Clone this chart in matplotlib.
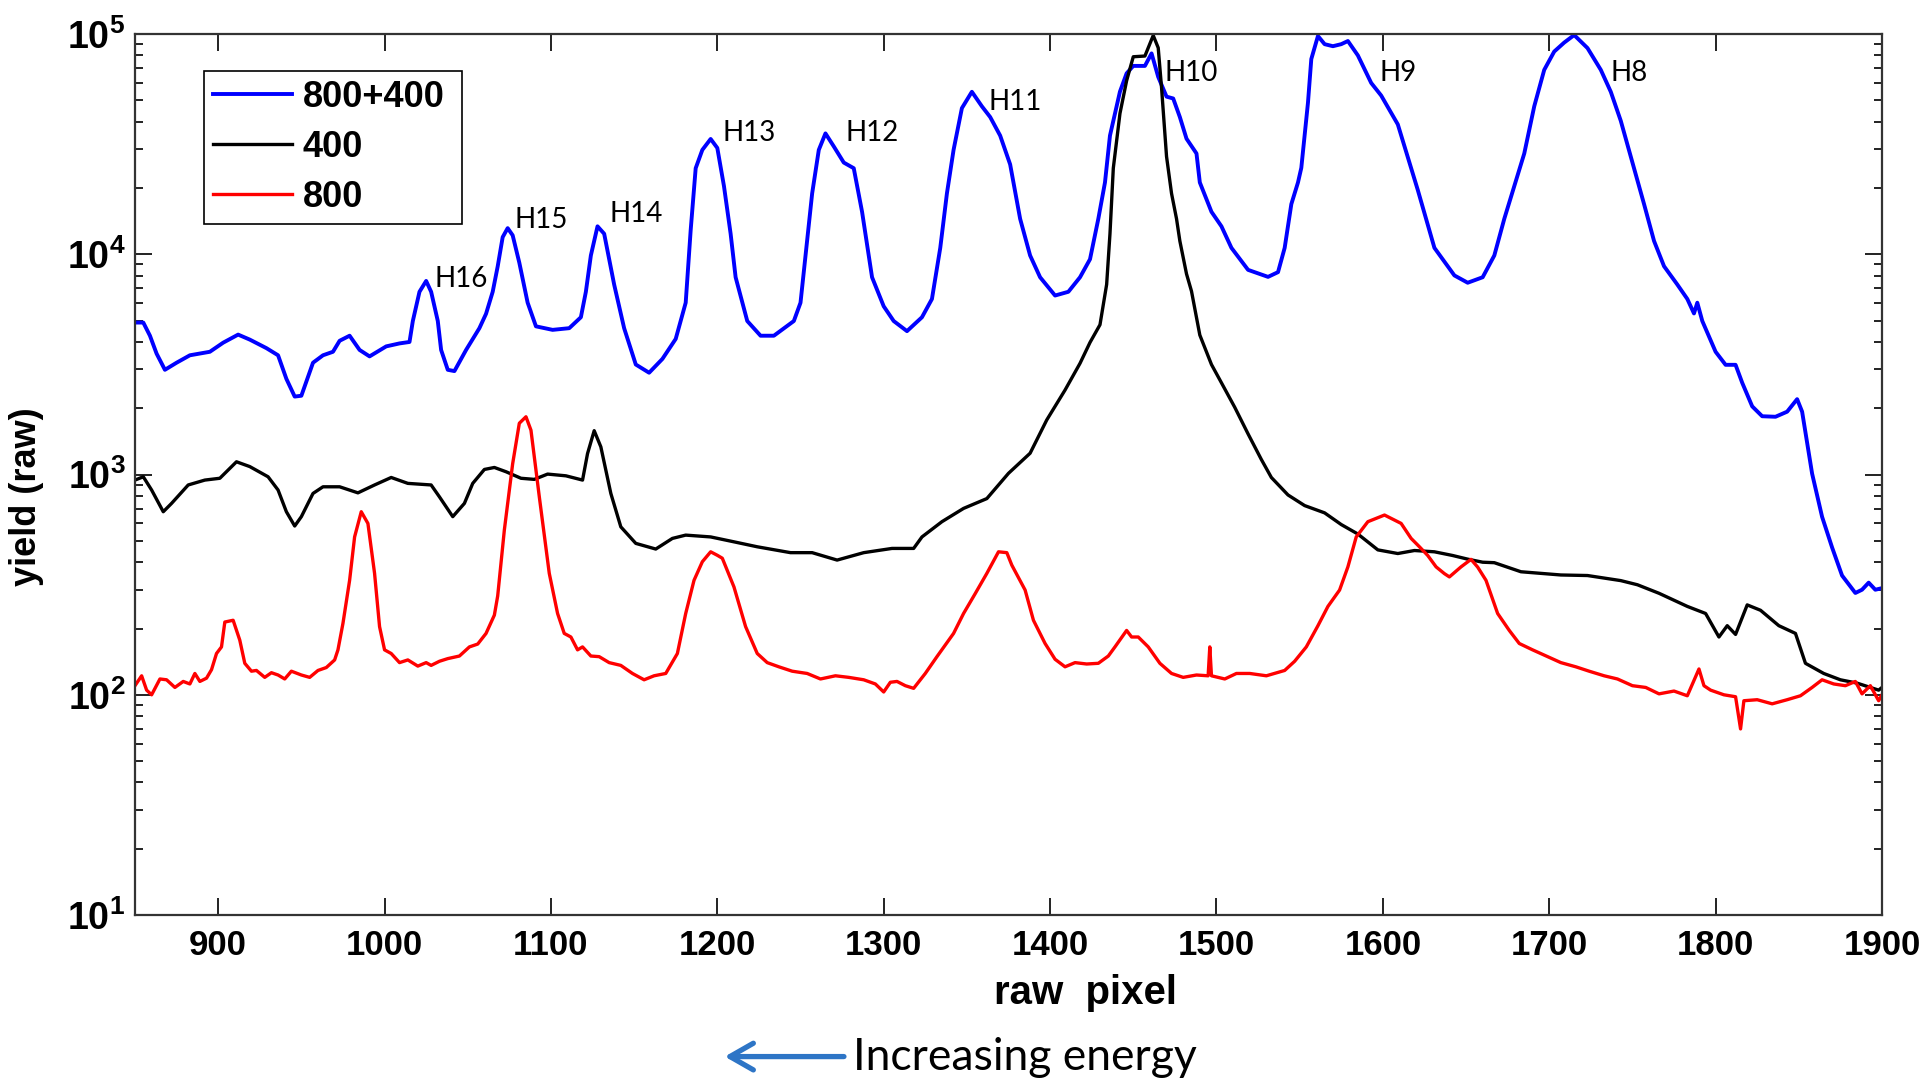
import matplotlib
matplotlib.use('Agg')
import matplotlib.pyplot as plt
from matplotlib.ticker import LogLocator, NullFormatter

# ---------------- data ----------------
blue_x = [850, 855, 859, 863, 868, 875, 883, 895, 903, 912, 919, 929, 936, 941, 946, 950, 957, 963, 969, 973,
          979, 985, 991, 1001, 1009, 1015, 1017, 1021, 1025, 1028, 1032, 1034, 1038, 1042, 1049, 1057, 1061, 1065,
          1068, 1071, 1074, 1077, 1081, 1086, 1091, 1101, 1111, 1118, 1121, 1124, 1128, 1132, 1138, 1144, 1151,
          1159, 1167, 1175, 1181, 1184, 1187, 1191, 1196, 1200, 1204, 1208, 1211, 1218, 1226, 1234, 1246, 1250,
          1253, 1257, 1261, 1265, 1270, 1276, 1282, 1287, 1293, 1300, 1306, 1314, 1323, 1329, 1334, 1338, 1342,
          1347, 1353, 1359, 1364, 1370, 1376, 1382, 1388, 1394, 1403, 1411, 1418, 1424, 1429, 1433, 1436, 1442,
          1446, 1450, 1457, 1461, 1465, 1470, 1474, 1478, 1482, 1488, 1490, 1497, 1503, 1509, 1519, 1531, 1537,
          1541, 1545, 1549, 1551, 1555, 1557, 1561, 1565, 1570, 1575, 1579, 1585, 1593, 1599, 1609, 1621, 1631,
          1643, 1651, 1660, 1667, 1673, 1680, 1685, 1691, 1697, 1703, 1709, 1715, 1723, 1731, 1737, 1743, 1751,
          1757, 1763, 1769, 1777, 1783, 1787, 1789, 1792, 1800, 1806, 1812, 1816, 1822, 1828, 1836, 1843, 1849,
          1852, 1858, 1864, 1870, 1876, 1884, 1888, 1892, 1896, 1900]
blue_y = [4900, 4900, 4270, 3540, 2990, 3220, 3480, 3610, 3970, 4320, 4100, 3750, 3480, 2720, 2260, 2280, 3220,
          3480, 3610, 4050, 4270, 3680, 3440, 3820, 3940, 4000, 4980, 6760, 7570, 6760, 4980, 3680, 2990, 2950,
          3680, 4620, 5370, 6760, 8810, 11970, 13150, 12200, 9160, 6030, 4710, 4540, 4620, 5180, 6760, 9880,
          13400, 12400, 7290, 4620, 3160, 2900, 3350, 4130, 6030, 12900, 24600, 29800, 33400, 30400, 20400,
          12400, 7870, 4980, 4270, 4270, 4980, 6030, 9880, 18900, 29800, 35400, 30900, 26100, 24600, 15600,
          7870, 5810, 4980, 4480, 5180, 6270, 10700, 18900, 29800, 46100, 54700, 47000, 42000, 34600, 25600,
          14500, 9880, 7870, 6500, 6760, 7870, 9500, 14500, 21200, 34600, 54800, 66300, 71700, 71700, 81700,
          63900, 52000, 51000, 42000, 33500, 28700, 21200, 15600, 13400, 10700, 8500, 7900, 8300, 10700, 16900,
          21200, 24700, 48800, 77000, 98000, 90000, 88100, 90000, 93000, 80000, 60000, 52600, 38900, 19600,
          10700, 8020, 7430, 7870, 9880, 14500, 21600, 28700, 47000, 68800, 83300, 91500, 99000, 86400, 68800,
          54700, 40400, 24600, 16900, 11500, 8830, 7290, 6270, 5390, 6030, 4980, 3610, 3150, 3150, 2610, 2040,
          1840, 1830, 1930, 2200, 1930, 1010, 643, 467, 348, 290, 300, 323, 300, 305]

black_x = [850, 855, 860, 867, 872, 882, 892, 901, 911, 919, 930, 936, 941, 946, 950, 957, 963, 973, 984, 994,
           1004, 1014, 1028, 1033, 1041, 1048, 1053, 1060, 1066, 1073, 1082, 1090, 1098, 1109, 1119, 1122, 1126,
           1130, 1136, 1142, 1151, 1163, 1173, 1181, 1196, 1210, 1224, 1244, 1257, 1272, 1288, 1305, 1318, 1323,
           1335, 1348, 1362, 1375, 1388, 1398, 1409, 1418, 1424, 1430, 1434, 1436, 1438, 1442, 1446, 1450, 1457,
           1462, 1465, 1467, 1470, 1473, 1476, 1478, 1482, 1485, 1490, 1497, 1503, 1511, 1519, 1527, 1533, 1543,
           1553, 1565, 1575, 1585, 1597, 1609, 1619, 1631, 1642, 1651, 1660, 1667, 1683, 1707, 1723, 1743, 1753,
           1766, 1783, 1794, 1802, 1807, 1812, 1819, 1827, 1838, 1848, 1854, 1865, 1875, 1885, 1898, 1900]
black_y = [944, 977, 851, 678, 740, 897, 944, 962, 1143, 1087, 977, 851, 678, 584, 644, 821, 880, 880, 826, 897,
           970, 912, 897, 792, 644, 740, 912, 1055, 1077, 1030, 962, 951, 1005, 987, 944, 1245, 1582, 1336, 821,
           579, 487, 459, 513, 531, 521, 495, 470, 442, 442, 409, 442, 462, 462, 521, 611, 702, 778, 1013, 1250,
           1770, 2420, 3200, 3980, 4790, 7300, 12400, 24600, 43600, 61400, 78900, 79500, 98600, 86600, 57100,
           27800, 18900, 14500, 11500, 8150, 6800, 4300, 3160, 2610, 2020, 1530, 1170, 970, 808, 723, 670, 593,
           537, 455, 438, 452, 446, 429, 413, 400, 398, 362, 350, 348, 330, 316, 289, 252, 234, 183, 206, 188,
           256, 242, 206, 190, 139, 125, 117, 113, 105, 108]

red_x = [850, 854, 857, 860, 865, 869, 874, 879, 883, 886, 889, 893, 896, 899, 902, 904, 909, 913, 916, 920,
         923, 928, 932, 936, 940, 944, 950, 955, 960, 965, 970, 972, 975, 979, 982, 986, 990, 994, 997, 1000,
         1004, 1009, 1014, 1020, 1025, 1028, 1033, 1038, 1045, 1051, 1056, 1061, 1066, 1068, 1072, 1077, 1081,
         1085, 1088, 1093, 1099, 1104, 1108, 1112, 1116, 1119, 1124, 1129, 1135, 1142, 1149, 1156, 1162, 1169,
         1176, 1181, 1186, 1191, 1196, 1200, 1203, 1210, 1217, 1224, 1230, 1237, 1245, 1254, 1262, 1271, 1279,
         1288, 1295, 1300, 1304, 1308, 1313, 1318, 1325, 1332, 1342, 1348, 1355, 1362, 1369, 1374, 1377, 1385,
         1390, 1397, 1403, 1409, 1415, 1422, 1429, 1435, 1439, 1446, 1449, 1453, 1459, 1466, 1473, 1480, 1488,
         1495, 1496, 1497, 1505, 1512, 1520, 1530, 1541, 1547, 1554, 1561, 1567, 1574, 1579, 1584, 1591, 1601,
         1611, 1617, 1622, 1627, 1632, 1637, 1640, 1647, 1653, 1657, 1662, 1669, 1676, 1682, 1690, 1699, 1707,
         1716, 1724, 1733, 1741, 1750, 1758, 1766, 1775, 1783, 1790, 1793, 1797, 1805, 1812, 1815, 1817, 1825,
         1834, 1843, 1851, 1858, 1864, 1871, 1878, 1884, 1888, 1893, 1898, 1900]
red_y = [110, 122, 105, 100, 118, 117, 108, 115, 112, 125, 115, 119, 130, 154, 165, 214, 218, 177, 139, 128,
         129, 120, 126, 123, 118, 128, 123, 120, 129, 133, 144, 160, 211, 331, 521, 678, 600, 356, 204, 160,
         154, 140, 144, 135, 140, 136, 142, 146, 150, 165, 170, 190, 230, 281, 560, 1120, 1710, 1830, 1590, 794,
         356, 234, 190, 183, 160, 165, 150, 149, 140, 136, 125, 117, 122, 125, 154, 234, 331, 402, 446, 430,
         417, 309, 204, 154, 140, 134, 128, 125, 118, 122, 120, 117, 112, 103, 114, 115, 110, 107, 125, 149,
         190, 234, 288, 356, 446, 442, 388, 299, 218, 171, 145, 134, 140, 138, 139, 150, 165, 196, 183, 183,
         165, 139, 125, 120, 123, 122, 165, 122, 118, 125, 125, 122, 129, 142, 165, 206, 252, 299, 381, 521,
         611, 655, 600, 513, 470, 429, 381, 355, 343, 381, 412, 380, 331, 234, 196, 171, 160, 149, 140, 134,
         128, 122, 118, 110, 108, 101, 104, 99, 131, 110, 105, 100, 98, 70, 94, 95, 91, 95, 99, 108, 117, 112,
         110, 115, 101, 110, 94, 100]

series_labels = ['800+400', '400', '800']
x_ticks = [900, 1000, 1100, 1200, 1300, 1400, 1500, 1600, 1700, 1800, 1900]
y_ticks = [10, 100, 1000, 10000, 100000]
y_tick_labels = [r'$\mathbf{10^{1}}$', r'$\mathbf{10^{2}}$', r'$\mathbf{10^{3}}$',
                 r'$\mathbf{10^{4}}$', r'$\mathbf{10^{5}}$']
harmonic_labels = ['H16', 'H15', 'H14', 'H13', 'H12', 'H11', 'H10', 'H9', 'H8']
harmonic_label_x = [1030, 1078, 1135, 1203, 1277, 1363, 1469, 1598, 1737]
harmonic_label_y = [7700, 14300, 15200, 35400, 35400, 49400, 66400, 66400, 66400]

# ---------------- style ----------------
plt.rcParams['font.family'] = ['Liberation Sans', 'DejaVu Sans']
plt.rcParams['mathtext.fontset'] = 'custom'
plt.rcParams['mathtext.rm'] = 'Liberation Sans:bold'
plt.rcParams['mathtext.bf'] = 'Liberation Sans:bold'

fig = plt.figure(figsize=(19.2, 10.82), dpi=100)
fig.patch.set_facecolor('white')
ax = fig.add_axes([0.0703, 0.1543, 0.9099, 0.8142])

ax.plot(blue_x, blue_y, color='#0000FF', lw=2.8, label=series_labels[0], solid_joinstyle='round')
ax.plot(black_x, black_y, color='black', lw=2.4, label=series_labels[1], solid_joinstyle='round')
ax.plot(red_x, red_y, color='#FF0000', lw=2.4, label=series_labels[2], solid_joinstyle='round')

ax.set_yscale('log')
ax.set_xlim(850, 1900)
ax.set_ylim(10, 1e5)
ax.set_xticks(x_ticks)
ax.set_xticklabels([str(t) for t in x_ticks])
ax.set_yticks(y_ticks)
ax.set_yticklabels(y_tick_labels)
ax.yaxis.set_minor_locator(LogLocator(base=10, subs=range(2, 10)))
ax.yaxis.set_minor_formatter(NullFormatter())
ax.tick_params(which='both', direction='in', top=True, right=True, color='#222222')
ax.tick_params(which='major', length=12, width=1.4)
ax.tick_params(axis='x', which='major', pad=10, labelsize=25)
ax.tick_params(axis='y', which='major', pad=7, labelsize=27)
ax.tick_params(which='minor', length=6, width=1.4)
for lab in ax.get_xticklabels():
    lab.set_fontweight('bold')
for sp in ax.spines.values():
    sp.set_linewidth(1.6)
    sp.set_color('#333333')

ax.text(0.544, -0.089, 'raw  pixel', transform=ax.transAxes, ha='center', va='center',
        fontsize=29, fontweight='bold')
ax.text(-0.062, 0.4745, 'yield (raw)', transform=ax.transAxes, ha='center', va='center',
        rotation=90, fontsize=26, fontweight='bold')

for lab, hx, hy in zip(harmonic_labels, harmonic_label_x, harmonic_label_y):
    ax.text(hx, hy, lab, fontfamily='Lato', fontsize=20, ha='left', va='center', color='black')

leg = ax.legend(loc='upper left', bbox_to_anchor=(204 / 1920, 0.5, 258 / 1920, 1 - 71 / 1082 - 0.5),
                bbox_transform=fig.transFigure, mode='expand', borderaxespad=0,
                prop={'family': 'Liberation Sans', 'weight': 'bold', 'size': 26},
                handlelength=2.2, handletextpad=0.3, labelspacing=0.42, borderpad=0.24,
                frameon=True, fancybox=False, framealpha=1, edgecolor='black')
leg.get_frame().set_linewidth(1.2)

# bottom annotation
fig.text(0.4445, 0.0225, 'Increasing energy', fontfamily='Lato', fontsize=32, ha='left', va='center')
fig.add_artist(matplotlib.patches.FancyArrowPatch((0.441, 0.0235), (0.376, 0.0235),
               transform=fig.transFigure, arrowstyle='->,head_length=0.7,head_width=0.4',
               mutation_scale=24, color='#2E75C6', lw=3.8))

fig.savefig('out.png', dpi=100, facecolor='white')
